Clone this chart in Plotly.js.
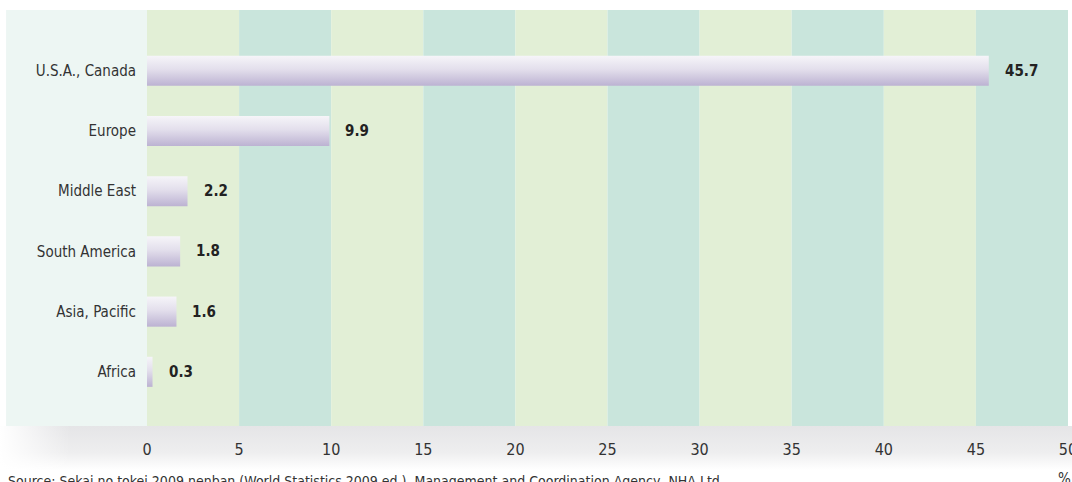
<!DOCTYPE html>
<html>
<head>
<meta charset="utf-8">
<script src="https://cdn.plot.ly/plotly-3.0.1.min.js"></script>
<style>
  html, body { margin: 0; padding: 0; background: #ffffff; }
  #wrap { position: relative; width: 1072px; height: 482px; overflow: hidden; }
  #band { position: absolute; left: 0; top: 426px; width: 1072px; height: 44px;
    background:
      linear-gradient(to right, #ffffff 0px, rgba(255,255,255,0) 70px),
      linear-gradient(to bottom, #e5e5e7 0%, #eeeeef 60%, #ffffff 100%); }
  #chart { position: absolute; left: 0; top: 0; width: 1072px; height: 482px; }
</style>
</head>
<body>
<div id="wrap">
  <div id="band"></div>
  <div id="chart"></div>
</div>
<script>
// Data
const categories = ["U.S.A., Canada", "Europe", "Middle East", "South America", "Asia, Pacific", "Africa"];
const values = [45.7, 9.9, 2.2, 1.8, 1.6, 0.3];
const xTicks = [0, 5, 10, 15, 20, 25, 30, 35, 40, 45, 50];
const sourceText = "Source: Sekai no tokei 2009 nenban (World Statistics 2009 ed.), Management and Coordination Agency, NHA Ltd.";
const unitLabel = "%";

const FONT = "'Liberation Sans Narrow', 'DejaVu Sans Condensed', 'Liberation Sans', sans-serif";
const half = 0.25;
const idx = categories.map((c, i) => i);

// bars as filled shapes with vertical gradient (light on top, lavender at bottom)
const traces = values.map((v, i) => ({
  type: 'scatter',
  mode: 'lines',
  x: [0, v, v, 0, 0],
  y: [i - half, i - half, i + half, i + half, i - half],
  fill: 'toself',
  line: { width: 0, color: 'rgba(0,0,0,0)' },
  fillgradient: {
    type: 'vertical',
    colorscale: [[0, '#bcb2d2'], [0.55, '#e3dfec'], [1, '#f6f5f9']]
  },
  hoverinfo: 'skip',
  showlegend: false
}));

// background bands
const shapes = [];
shapes.push({ type: 'rect', xref: 'paper', yref: 'paper', x0: -0.153, x1: 0, y0: 0, y1: 1,
  fillcolor: '#edf6f3', line: { width: 0 }, layer: 'below' });
for (let k = 0; k < xTicks.length - 1; k++) {
  shapes.push({ type: 'rect', xref: 'x', yref: 'paper', x0: xTicks[k], x1: xTicks[k + 1], y0: 0, y1: 1,
    fillcolor: k % 2 === 0 ? '#e2efd6' : '#c9e5dc', line: { width: 0 }, layer: 'below' });
}

const annotations = values.map((v, i) => ({
  x: v, y: i, xref: 'x', yref: 'y', text: v.toFixed(1), showarrow: false,
  xanchor: 'left', yanchor: 'middle', xshift: 14,
  font: { family: FONT, size: 15, color: '#222222', weight: 'bold' }
}));
annotations.push({ xref: 'paper', yref: 'paper', x: -0.153, y: -0.108, xanchor: 'left', yanchor: 'top',
  text: sourceText, showarrow: false, font: { family: FONT, size: 14, color: '#333333' } });
annotations.push({ xref: 'paper', yref: 'paper', x: 0.9965, y: -0.102, xanchor: 'center', yanchor: 'top',
  text: unitLabel, showarrow: false, font: { family: FONT, size: 15, color: '#333333' } });

const layout = {
  width: 1072, height: 482,
  margin: { l: 147, r: 4, t: 10, b: 56 },
  paper_bgcolor: 'rgba(0,0,0,0)',
  plot_bgcolor: 'rgba(0,0,0,0)',
  xaxis: {
    range: [0, 50], tickvals: xTicks, showgrid: false, zeroline: false, showline: false,
    ticks: '', ticklabelstandoff: 12, ticklabeloverflow: 'allow',
    tickfont: { family: FONT, size: 16, color: '#333333' }, fixedrange: true
  },
  yaxis: {
    range: [5.9, -1.01], tickvals: idx, ticktext: categories, showgrid: false, zeroline: false,
    showline: false, ticks: '', ticklabelstandoff: 10,
    tickfont: { family: FONT, size: 15, color: '#333333' }, fixedrange: true
  },
  shapes: shapes,
  annotations: annotations,
  showlegend: false
};

Plotly.newPlot('chart', traces, layout, { displayModeBar: false, staticPlot: true });
</script>
</body>
</html>
